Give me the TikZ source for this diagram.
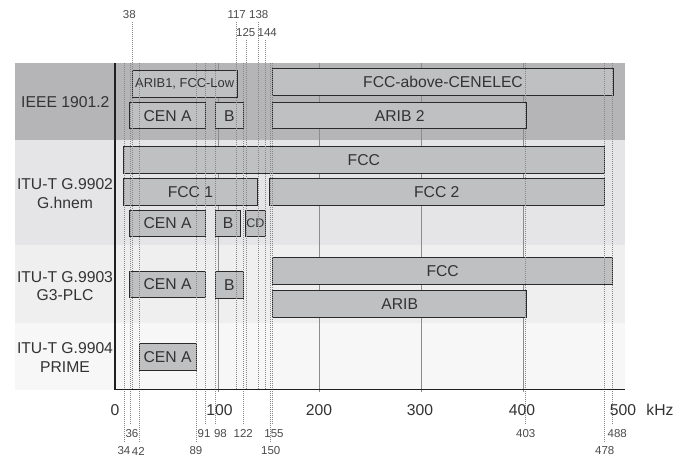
\documentclass[tikz,border=0pt]{standalone}
\usepackage{fontspec}
\setmainfont{Liberation Sans}
\definecolor{txt}{HTML}{333333}
\definecolor{numcol}{HTML}{4A4A4A}
\definecolor{bandA}{HTML}{B5B5B7}
\definecolor{bandB}{HTML}{E5E5E7}
\definecolor{bandC}{HTML}{EFEFF0}
\definecolor{bandD}{HTML}{F7F7F7}
\definecolor{boxfill}{HTML}{BFC0C2}
\definecolor{boxline}{HTML}{2A2A2A}
\definecolor{gridcol}{HTML}{8C8C8C}
\definecolor{dashcol}{HTML}{888888}
\tikzset{
  bx/.style={draw=boxline, fill=boxfill, line width=1pt, inner sep=0pt, outer sep=0pt,
    anchor=north west, minimum height=26.7pt, text=txt, font=\fontsize{15.7}{18}\selectfont},
  lbl/.style={text=txt, align=center, inner sep=0pt, font=\fontsize{15.7}{18.7}\selectfont},
  num/.style={text=numcol, inner sep=0pt, font=\fontsize{11.5}{12}\selectfont},
  dl/.style={draw=dashcol, line width=0.45pt, dash pattern=on 1pt off 1pt},
  gridline/.style={draw=gridcol, line width=0.6pt},
  axisline/.style={draw=black!88, line width=1.6pt},
}
\begin{document}
\begin{tikzpicture}[x=1pt,y=-1pt]
\useasboundingbox (0,0) rectangle (689,460);
% bands
\fill[bandA] (15,63) rectangle (625,140);
\fill[bandB] (15,140) rectangle (625,245);
\fill[bandC] (15,245) rectangle (625,323);
\fill[bandD] (15,323) rectangle (625,390);
% grid lines
\foreach \gx in {218,319,421.5,523} {\draw[gridline] (\gx,63) -- (\gx,392);}
% boxes IEEE 1901.2
\node[bx, minimum width=105.3pt, font=\fontsize{12.9}{14}\selectfont] (arib1) at (132,70.7) {ARIB1, FCC-Low};
\node[bx, minimum width=76.4pt] (ieeecena) at (129.3,102.3) {CEN A};
\node[bx, minimum width=28pt] (ieeeb) at (215.3,102.3) {B};
\node[bx, minimum width=340.6pt] (fccac) at (272.7,69) {FCC-above-CENELEC};
\node[bx, minimum width=254pt] (arib2) at (272.7,102.3) {ARIB 2};
% boxes G.9902
\node[bx, minimum width=481pt] (hfcc) at (123.3,146.7) {FCC};
\node[bx, minimum width=134.4pt] (hfcc1) at (123.3,178.3) {FCC 1};
\node[bx, minimum width=335pt] (hfcc2) at (269.3,178.3) {FCC 2};
\node[bx, minimum width=76.4pt] (hcena) at (129.3,210) {CEN A};
\node[bx, minimum width=25.4pt] (hb) at (215.3,210) {B};
\node[bx, minimum width=19.6pt, font=\fontsize{12.5}{14}\selectfont] (hcd) at (245.7,210) {CD};
% boxes G.9903
\node[bx, minimum width=76.4pt] (gcena) at (129.3,271) {CEN A};
\node[bx, minimum width=28pt] (gb) at (215.3,271.5) {B};
\node[bx, minimum width=340pt] (gfcc) at (272.7,257.3) {FCC};
\node[bx, minimum width=254pt] (garib) at (272.7,290.7) {ARIB};
% boxes G.9904
\node[bx, minimum width=57.3pt] (pcena) at (139,343.3) {CEN A};
% top frequency labels and their lines
\node[num] (t38) at (129.3,15) {38};
\node[num] (t117) at (236.7,15) {117};
\node[num] (t138) at (258.7,15) {138};
\node[num] (t125) at (245.7,32.7) {125};
\node[num] (t144) at (267.3,32.7) {144};
\coordinate (a38) at (132,22); \coordinate (e38) at (132,389);
\coordinate (a117) at (236.7,22); \coordinate (e117) at (236.7,389);
\coordinate (a138) at (258,22); \coordinate (e138) at (258,389);
\coordinate (a125) at (246,40); \coordinate (e125) at (246,389);
\coordinate (a144) at (265.3,40); \coordinate (e144) at (265.3,389);
\foreach \f in {38,117,138,125,144} {\draw[dl] (a\f) -- (e\f);}
% bottom frequency labels and their lines
\node[num] (b36) at (132,433.3) {36};
\node[num] (b91) at (204,433.3) {91};
\node[num] (b98) at (220.5,433.3) {98};
\node[num] (b122) at (243.3,433.3) {122};
\node[num] (b155) at (274,433.3) {155};
\node[num] (b403) at (525.7,433.3) {403};
\node[num] (b488) at (617.3,433.3) {488};
\node[num] (b34) at (124,451) {34};
\node[num] (b42) at (138.3,451) {42};
\node[num] (b89) at (196,451) {89};
\node[num] (b150) at (270.7,451) {150};
\node[num] (b478) at (604.7,451) {478};
\foreach \f/\fx in {36/130,91/205,98/215,122/243.3,155/272.7,403/525.7,488/612.3} {
  \coordinate (s\f) at (\fx,63); \coordinate (u\f) at (\fx,424);
  \draw[dl] (s\f) -- (u\f);}
\foreach \f/\fx in {34/124.3,42/139,89/196,150/270,478/604.3} {
  \coordinate (s\f) at (\fx,63); \coordinate (u\f) at (\fx,443);
  \draw[dl] (s\f) -- (u\f);}
% axes
\coordinate (o) at (115,389.5);
\coordinate (ytop) at (115,63);
\coordinate (xend) at (625,389.5);
\draw[axisline] (ytop) -- (o) -- (xend);
% axis labels
\node[lbl] (x0) at (115,410) {0};
\node[lbl] (x100) at (219.5,410) {100};
\node[lbl] (x200) at (319,410) {200};
\node[lbl] (x300) at (420,410) {300};
\node[lbl] (x400) at (522,410) {400};
\node[lbl] (x500) at (623,410) {500};
\node[lbl] (khz) at (660,410) {kHz};
% row labels
\node[lbl] (ieee) at (65.3,101.7) {IEEE 1901.2};
\node[lbl] (g9902) at (65,193.3) {ITU-T G.9902\\G.hnem};
\node[lbl] (g9903) at (65,286.2) {ITU-T G.9903\\G3-PLC};
\node[lbl] (g9904) at (65,357.5) {ITU-T G.9904\\PRIME};
\end{tikzpicture}
\end{document}
